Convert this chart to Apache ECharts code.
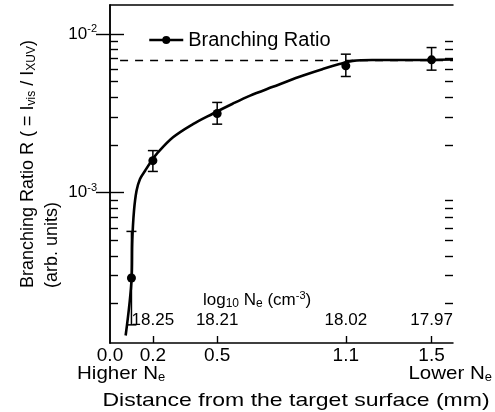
<!DOCTYPE html>
<html>
<head>
<meta charset="utf-8">
<title>Branching Ratio</title>
<script src="https://cdn.jsdelivr.net/npm/echarts@6/dist/echarts.min.js"></script>
<style>
  html, body { margin: 0; padding: 0; background: #fff; }
  #chart { width: 495px; height: 412px; }
</style>
</head>
<body>
<div id="chart"></div>
<script>
// measured points (distance in mm, ratio) with error bar ends
var pointX = [0.1, 0.2, 0.5, 1.1, 1.5];
var pointY = [2.9e-4, 1.59e-3, 3.15e-3, 6.29e-3, 6.86e-3];
var errLow = [1.47e-4, 1.36e-3, 2.70e-3, 5.39e-3, 5.91e-3];
var errHigh = [5.7e-4, 1.84e-3, 3.70e-3, 7.45e-3, 8.2e-3];

// guide curve
var curveX = [0.073, 0.101, 0.104, 0.112, 0.124, 0.140, 0.163, 0.194, 0.217, 0.294, 0.387,
              0.479, 0.572, 0.651, 0.760, 0.884, 0.992, 1.070, 1.132, 1.223, 1.380, 1.6];
var curveY = [1.26e-4, 2.92e-4, 4.99e-4, 7.7e-4, 1.03e-3, 1.22e-3, 1.37e-3, 1.59e-3, 1.75e-3,
              2.23e-3, 2.70e-3, 3.14e-3, 3.63e-3, 4.07e-3, 4.64e-3, 5.37e-3, 6.00e-3, 6.45e-3,
              6.76e-3, 6.85e-3, 6.85e-3, 6.9e-3];

// dashed saturation level
var levelX = [0.047, 1.6];
var levelY = [6.8e-3, 6.8e-3];

// axes
var distTicks = [0, 0.2, 0.5, 1.1, 1.5];
var neTicks = [0.2, 0.5, 1.1, 1.5];
var neLabels = ['18.25', '18.21', '18.02', '17.97'];
var majorY = [1e-3, 1e-2];
var minorY = [2e-4, 3e-4, 4e-4, 5e-4, 6e-4, 7e-4, 8e-4, 9e-4,
              2e-3, 3e-3, 4e-3, 5e-3, 6e-3, 7e-3, 8e-3, 9e-3];
var yMin = 1.13e-4, yMax = 0.0152;

var FONT = '"Liberation Sans", Arial, Helvetica, sans-serif';
var INK = '#000';

function pairs(xs, ys) {
    return xs.map(function (x, i) { return [x, ys[i]]; });
}

function yAxis(pos, ticks, len, labels, line) {
    return {
        type: 'log', logBase: 10, min: yMin, max: yMax, position: pos,
        axisLine: { show: line, lineStyle: { color: INK, width: 1.5 } },
        axisTick: { inside: true, length: len, customValues: ticks, lineStyle: { color: INK, width: 1.4 } },
        axisLabel: labels ? {
            customValues: ticks, margin: 13, color: INK, fontFamily: FONT, fontSize: 17,
            formatter: function (v) { return '10{sup|' + Math.round(Math.log10(v)) + '}'; },
            rich: { sup: { fontSize: 11, fontFamily: FONT, color: INK, padding: [0, 0, 10, 0] } }
        } : { show: false },
        splitLine: { show: false }
    };
}

var sub = { fontFamily: FONT, fontSize: 12, fill: INK, padding: [8, 0, 0, 0] };

var chart = echarts.init(document.getElementById('chart'));

chart.setOption({
    backgroundColor: '#fff',
    animation: false,
    grid: { left: 110, right: 42, top: 5, bottom: 69 },
    legend: {
        data: ['Branching Ratio'],
        left: 143, top: 25,
        itemWidth: 34, itemHeight: 10, itemGap: 6,
        textStyle: { fontFamily: FONT, fontSize: 20, color: INK },
        lineStyle: { color: INK, width: 2.5, opacity: 1 },
        itemStyle: { color: INK }
    },
    xAxis: [
        {
            type: 'value', min: 0, max: 1.6, position: 'bottom',
            axisLine: { lineStyle: { color: INK, width: 1.5 } },
            axisTick: { inside: true, length: 7, customValues: neTicks, lineStyle: { color: INK, width: 1.4 } },
            axisLabel: {
                customValues: distTicks, margin: 3, color: INK, fontFamily: FONT, fontSize: 19,
                formatter: function (v) { return v.toFixed(1); }
            },
            splitLine: { show: false }
        },
        {
            type: 'value', min: 0, max: 1.6, position: 'bottom',
            axisLine: { show: false }, axisTick: { show: false },
            axisLabel: {
                inside: true, customValues: neTicks, margin: 14, color: INK, fontFamily: FONT, fontSize: 17,
                formatter: function (v) { return neLabels[neTicks.indexOf(v)]; }
            },
            splitLine: { show: false }
        },
        {
            type: 'value', min: 0, max: 1.6, position: 'top',
            axisLine: { lineStyle: { color: INK, width: 1.5 } },
            axisTick: { show: false }, axisLabel: { show: false }, splitLine: { show: false }
        }
    ],
    yAxis: [
        yAxis('left', majorY, 14, true, true),
        yAxis('left', minorY, 8, false, false),
        yAxis('right', majorY, 14, false, true),
        yAxis('right', minorY, 8, false, false)
    ],
    series: [
        {
            name: 'level', type: 'line', data: pairs(levelX, levelY),
            showSymbol: false, silent: true,
            lineStyle: { color: INK, width: 1.5, type: [8, 7] }
        },
        {
            name: 'curve', type: 'line', data: pairs(curveX, curveY),
            smooth: 0.35, showSymbol: false, silent: true,
            lineStyle: { color: INK, width: 2.6 }
        },
        {
            type: 'custom', name: 'errors',
            data: pointX.map(function (x, i) { return [x, pointY[i], errLow[i], errHigh[i]]; }),
            encode: { x: 0, y: [2, 3] },
            renderItem: function (params, api) {
                var x = api.value(0);
                var lo = api.coord([x, api.value(2)]);
                var hi = api.coord([x, api.value(3)]);
                var w = 5;
                var st = { stroke: INK, lineWidth: 1.5 };
                return {
                    type: 'group',
                    children: [
                        { type: 'line', shape: { x1: lo[0], y1: lo[1], x2: hi[0], y2: hi[1] }, style: st },
                        { type: 'line', shape: { x1: lo[0] - w, y1: lo[1], x2: lo[0] + w, y2: lo[1] }, style: st },
                        { type: 'line', shape: { x1: hi[0] - w, y1: hi[1], x2: hi[0] + w, y2: hi[1] }, style: st }
                    ]
                };
            }
        },
        {
            name: 'Branching Ratio', type: 'line', data: pairs(pointX, pointY),
            symbol: 'circle', symbolSize: 9, z: 5,
            itemStyle: { color: INK },
            lineStyle: { opacity: 0 }
        }
    ],
    graphic: [
        {
            type: 'text', x: 28, y: 288, rotation: Math.PI / 2,
            style: {
                text: 'Branching Ratio R ( = I{sub|vis} / I{sub|XUV})',
                fontFamily: FONT, fontSize: 18, fill: INK,
                align: 'left', verticalAlign: 'middle',
                rich: { sub: sub }
            }
        },
        {
            type: 'text', x: 52, y: 288, rotation: Math.PI / 2,
            style: { text: '(arb. units)', fontFamily: FONT, fontSize: 18, fill: INK, align: 'left', verticalAlign: 'middle' }
        },
        {
            type: 'text', x: 77, y: 374, scaleX: 1.08,
            style: {
                text: 'Higher N{sub|e}', fontFamily: FONT, fontSize: 19, fill: INK,
                align: 'left', verticalAlign: 'middle', rich: { sub: sub }
            }
        },
        {
            type: 'text', x: 492, y: 374, scaleX: 1.08,
            style: {
                text: 'Lower N{sub|e}', fontFamily: FONT, fontSize: 19, fill: INK,
                align: 'right', verticalAlign: 'middle', rich: { sub: sub }
            }
        },
        {
            type: 'text', x: 203, y: 300,
            style: {
                text: 'log{sub|10} N{sub|e} (cm{sup|-3})', fontFamily: FONT, fontSize: 17, fill: INK,
                align: 'left', verticalAlign: 'middle',
                rich: {
                    sub: sub,
                    sup: { fontFamily: FONT, fontSize: 11, fill: INK, padding: [0, 0, 8, 0] }
                }
            }
        },
        {
            type: 'text', x: 296, y: 401, scaleX: 1.21,
            style: {
                text: 'Distance from the target surface (mm)', fontFamily: FONT, fontSize: 19, fill: INK,
                align: 'center', verticalAlign: 'middle'
            }
        }
    ]
});
</script>
</body>
</html>
